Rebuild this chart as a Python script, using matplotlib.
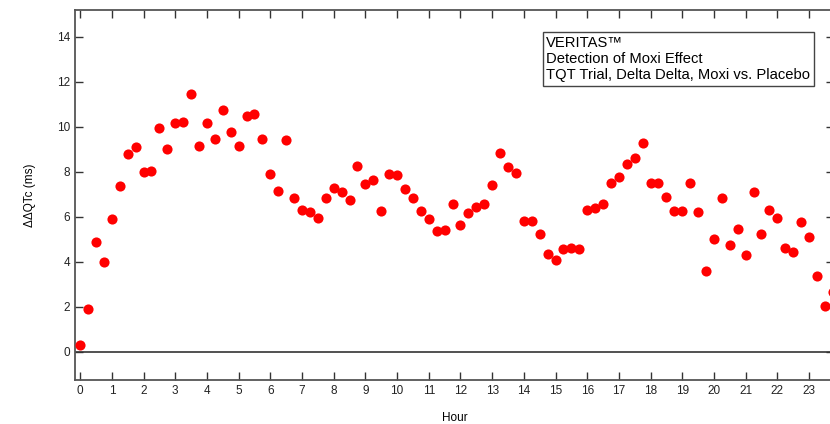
import matplotlib.pyplot as plt
import numpy as np

plt.rcParams['font.family'] = ['Liberation Sans', 'DejaVu Sans']

# hours (every 15 min) and delta-delta QTc values
hours = np.arange(0, 24, 0.25)
ddqtc = [0.3, 1.9, 4.9, 4.0, 5.9, 7.35, 8.8, 9.1,
         8.0, 8.05, 9.95, 9.0, 10.15, 10.2, 11.45, 9.15,
         10.15, 9.45, 10.75, 9.75, 9.15, 10.5, 10.55, 9.45,
         7.9, 7.15, 9.4, 6.85, 6.3, 6.2, 5.95, 6.85,
         7.3, 7.1, 6.75, 8.25, 7.45, 7.65, 6.25, 7.9,
         7.85, 7.25, 6.85, 6.25, 5.9, 5.35, 5.4, 6.55,
         5.65, 6.15, 6.45, 6.55, 7.4, 8.85, 8.2, 7.95,
         5.8, 5.8, 5.25, 4.35, 4.1, 4.55, 4.6, 4.55,
         6.3, 6.4, 6.55, 7.5, 7.75, 8.35, 8.6, 9.3,
         7.5, 7.5, 6.9, 6.25, 6.25, 7.5, 6.2, 3.6,
         5.0, 6.85, 4.75, 5.45, 4.3, 7.1, 5.25, 6.3,
         5.95, 4.6, 4.45, 5.75, 5.1, 3.35, 2.05, 2.65]
xticks = list(range(0, 24))
yticks = list(range(0, 15, 2))

fig = plt.figure(figsize=(8.3, 4.24), dpi=100)
ax = fig.add_axes([0.0905, 0.104, 0.914, 0.873])
ax.plot(hours, ddqtc, 'o', color='#ff0000', markersize=7.3, markeredgewidth=0, clip_on=False, zorder=3)
ax.axhline(0, color='#333333', lw=1.2)

ax.set_xlim(-0.16, 23.78)
ax.set_ylim(-1.25, 15.2)
ax.set_xticks(xticks)
ax.set_yticks(yticks)
ax.tick_params(direction='in', length=6, width=1, colors='#333333', labelsize=8.5,
               top=True, right=True, labelcolor='#222222')
for s in ax.spines.values():
    s.set_color('#555555')
    s.set_linewidth(1.3)

ax.set_xlabel('Hour', fontsize=8.5, labelpad=11)
ax.set_ylabel('\u0394\u0394QTc (ms)', fontsize=8.5, labelpad=15)

ax.text(0.621, 0.93, 'VERITAS\u2122\nDetection of Moxi Effect\nTQT Trial, Delta Delta, Moxi vs. Placebo',
        transform=ax.transAxes, fontsize=10.6, va='top', ha='left', linespacing=1.2,
        bbox=dict(boxstyle='square,pad=0.25', facecolor='white', edgecolor='#444444', linewidth=1))

plt.savefig('out.png', dpi=100)
